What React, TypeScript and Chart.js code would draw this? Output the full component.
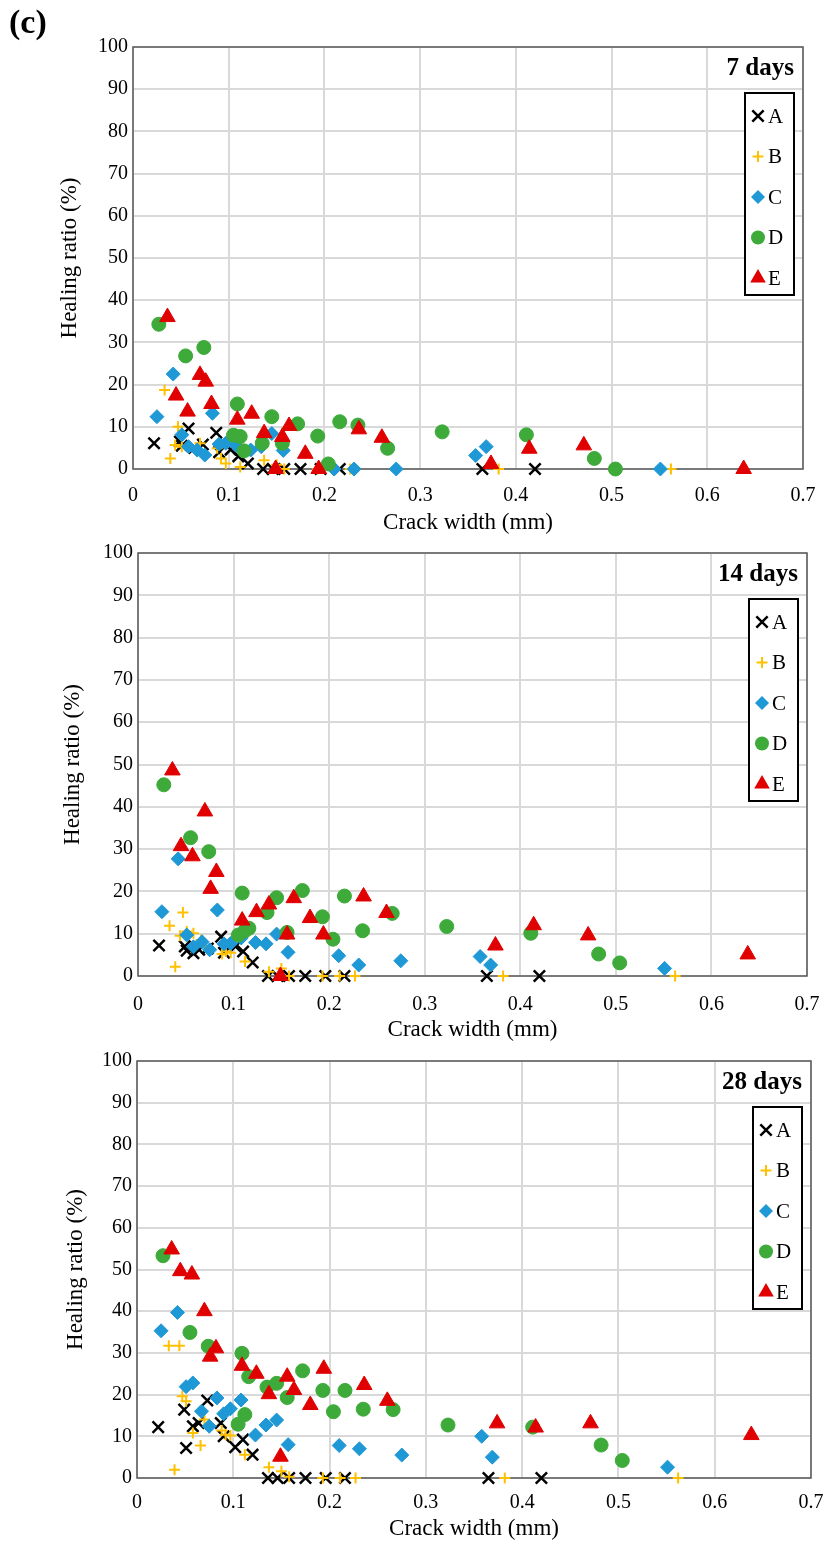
import React, { useEffect, useRef } from 'react';
import { Chart, registerables } from 'chart.js';

Chart.register(...registerables);

// ---------- tick labels / categories ----------
const xTicks = [0, 0.1, 0.2, 0.3, 0.4, 0.5, 0.6, 0.7];
const yTicks = [0, 10, 20, 30, 40, 50, 60, 70, 80, 90, 100];
const seriesNames = ['A', 'B', 'C', 'D', 'E'];
const ageLabels = ['7 days', '14 days', '28 days'];

// ---------- crack widths (mm) ----------
const xA = [0.022, 0.049, 0.051, 0.058, 0.064, 0.073, 0.087, 0.09, 0.102, 0.11, 0.12, 0.136, 0.146, 0.158, 0.175, 0.196, 0.216, 0.365, 0.42];
const xB = [0.033, 0.039, 0.044, 0.047, 0.051, 0.058, 0.066, 0.07, 0.088, 0.092, 0.097, 0.112, 0.137, 0.15, 0.158, 0.193, 0.211, 0.227, 0.382, 0.562];
const xC = [0.025, 0.042, 0.051, 0.058, 0.067, 0.075, 0.083, 0.09, 0.097, 0.108, 0.123, 0.134, 0.145, 0.157, 0.21, 0.231, 0.275, 0.358, 0.369, 0.551];
const xD = [0.027, 0.055, 0.074, 0.105, 0.109, 0.112, 0.116, 0.135, 0.145, 0.156, 0.172, 0.193, 0.204, 0.216, 0.235, 0.266, 0.323, 0.411, 0.482, 0.504];
const xE = [0.036, 0.045, 0.057, 0.07, 0.076, 0.082, 0.109, 0.124, 0.137, 0.149, 0.156, 0.163, 0.18, 0.194, 0.236, 0.26, 0.374, 0.414, 0.471, 0.638];

// ---------- healing ratio (%) : 7 days ----------
const yA7 = [6.1, 6.5, 5.5, 9.6, 5.0, 5.8, 8.6, 4.0, 4.6, 3.0, 1.3, 0, 0, 0, 0, 0, 0, 0, 0];
const yB7 = [18.7, 2.5, 5.7, 10.0, 5.3, 5.3, 4.5, 6.1, 4.9, 2.5, 1.3, 0.5, 2.1, 1.0, 0, 0, 0, 0, 0, 0];
const yC7 = [12.4, 22.5, 8.1, 5.3, 4.5, 3.3, 13.2, 5.9, 6.1, 5.5, 4.5, 5.3, 8.4, 4.4, 0, 0, 0, 3.2, 5.3, 0];
const yD7 = [34.3, 26.8, 28.8, 8.0, 15.4, 7.7, 4.3, 6.1, 12.4, 6.1, 10.7, 7.8, 1.2, 11.2, 10.4, 4.9, 8.8, 8.1, 2.5, 0];
const yE7 = [36.0, 17.4, 13.6, 22.3, 20.7, 15.4, 11.7, 13.1, 8.5, 0, 7.6, 10.2, 3.6, 0, 9.4, 7.4, 1.2, 4.8, 5.6, 0];

// ---------- healing ratio (%) : 14 days ----------
const yA14 = [7.2, 7.0, 6.0, 5.4, 6.2, 6.5, 9.3, 5.5, 7.0, 5.8, 3.2, 0, 0, 0, 0, 0, 0, 0, 0];
const yB14 = [11.9, 2.2, 9.5, 15.0, 10.5, 10.1, 8.5, 7.0, 5.2, 5.8, 5.5, 3.4, 1.0, 1.8, 0, 0, 0, 0, 0, 0];
const yC14 = [15.2, 27.7, 9.7, 6.9, 8.1, 6.2, 15.6, 7.6, 7.7, 9.0, 7.9, 7.6, 9.9, 5.6, 4.8, 2.6, 3.6, 4.6, 2.6, 1.8];
const yD14 = [45.2, 32.7, 29.4, 9.7, 19.6, 10.7, 11.3, 15.0, 18.5, 10.3, 20.2, 14.0, 8.7, 18.9, 10.7, 14.8, 11.7, 10.1, 5.2, 3.1];
const yE14 = [48.6, 30.7, 28.3, 38.9, 20.6, 24.6, 13.1, 15.1, 16.9, 0, 9.8, 18.4, 13.7, 9.8, 18.8, 14.9, 7.2, 12.0, 9.6, 5.1];

// ---------- healing ratio (%) : 28 days ----------
const yA28 = [12.2, 16.4, 7.2, 12.4, 13.2, 18.6, 13.2, 10.0, 7.4, 9.2, 5.6, 0, 0, 0, 0, 0, 0, 0, 0];
const yB28 = [31.7, 2.0, 31.7, 19.6, 18.4, 10.8, 7.8, 14.0, 11.4, 10.4, 10.2, 5.6, 2.6, 1.6, 0.3, 0, 0, 0, 0, 0];
const yC28 = [35.3, 39.7, 21.9, 22.8, 16.0, 12.4, 19.2, 15.4, 16.6, 18.7, 10.3, 12.7, 13.9, 8.0, 7.8, 7.0, 5.5, 10.0, 5.0, 2.6];
const yD28 = [53.3, 34.9, 31.6, 12.9, 29.9, 15.2, 24.3, 21.8, 22.7, 19.3, 25.7, 21.0, 15.9, 21.0, 16.5, 16.4, 12.7, 12.2, 7.9, 4.2];
const yE28 = [54.8, 49.6, 48.8, 40.0, 29.1, 31.1, 26.9, 25.0, 20.1, 5.1, 24.3, 21.1, 17.5, 26.2, 22.3, 18.5, 13.1, 12.1, 13.1, 10.3];

const xSets = [xA, xB, xC, xD, xE];
const panelValues = [
  [yA7, yB7, yC7, yD7, yE7],
  [yA14, yB14, yC14, yD14, yE14],
  [yA28, yB28, yC28, yD28, yE28],
];

// ---------- styles ----------
const FONT = '"Liberation Serif", "Times New Roman", serif';
const markerStyles = [
  { pointStyle: 'crossRot', radius: 8, color: '#000000', borderWidth: 2.5 },
  { pointStyle: 'cross', radius: 5.5, color: '#FFC000', borderWidth: 2 },
  { pointStyle: 'rectRot', radius: 7, color: '#1F98D6', borderWidth: 1 },
  { pointStyle: 'circle', radius: 7, color: '#3DAA3A', borderWidth: 1 },
  { pointStyle: 'triangle', radius: 9, color: '#E00000', borderWidth: 1 },
];

// canvas layout for each panel
const layouts = [
  { top: 0, height: 538, padTop: 47, padRight: 22, yWidth: 133, xHeight: 69, tickPad: 15, titleBottom: 1.2, yTitlePad: 56 },
  { top: 538, height: 507, padTop: 15, padRight: 18, yWidth: 138, xHeight: 69, tickPad: 17, titleBottom: 1.2, yTitlePad: 59 },
  { top: 1045, height: 505, padTop: 16, padRight: 14, yWidth: 137, xHeight: 72, tickPad: 13, titleBottom: 7, yTitlePad: 62 },
];

function drawMarker(ctx: CanvasRenderingContext2D, style: string, x: number, y: number, r: number, color: string, lw: number) {
  ctx.save();
  ctx.fillStyle = color;
  ctx.strokeStyle = color;
  ctx.lineWidth = lw;
  ctx.beginPath();
  if (style === 'circle') {
    ctx.arc(x, y, r, 0, Math.PI * 2);
    ctx.fill();
  } else if (style === 'triangle') {
    let rad = 0;
    ctx.moveTo(x + Math.sin(rad) * r, y - Math.cos(rad) * r);
    rad += (2 * Math.PI) / 3;
    ctx.lineTo(x + Math.sin(rad) * r, y - Math.cos(rad) * r);
    rad += (2 * Math.PI) / 3;
    ctx.lineTo(x + Math.sin(rad) * r, y - Math.cos(rad) * r);
    ctx.closePath();
    ctx.fill();
  } else if (style === 'rectRot') {
    ctx.moveTo(x - r, y);
    ctx.lineTo(x, y - r);
    ctx.lineTo(x + r, y);
    ctx.lineTo(x, y + r);
    ctx.closePath();
    ctx.fill();
  } else if (style === 'cross') {
    ctx.moveTo(x, y - r);
    ctx.lineTo(x, y + r);
    ctx.moveTo(x - r, y);
    ctx.lineTo(x + r, y);
    ctx.stroke();
  } else if (style === 'crossRot') {
    const o = Math.SQRT1_2 * r;
    ctx.moveTo(x - o, y - o);
    ctx.lineTo(x + o, y + o);
    ctx.moveTo(x - o, y + o);
    ctx.lineTo(x + o, y - o);
    ctx.stroke();
  }
  ctx.restore();
}

const panelPlugin = {
  id: 'panelDecor',
  beforeDatasetsDraw(chart: any) {
    const { ctx, chartArea: a } = chart;
    ctx.save();
    ctx.strokeStyle = '#595959';
    ctx.lineWidth = 1.5;
    ctx.strokeRect(a.left, a.top, a.right - a.left, a.bottom - a.top);
    ctx.restore();
  },
  afterDraw(chart: any, _args: any, opts: any) {
    const { ctx, chartArea: a } = chart;
    ctx.save();
    // age label
    ctx.font = `bold 25px ${FONT}`;
    ctx.fillStyle = '#000';
    ctx.textAlign = 'right';
    ctx.textBaseline = 'middle';
    ctx.fillText(opts.label, a.right - 9, a.top + 22);
    // legend box
    const bw = 49;
    const bh = 202;
    const bx = a.right - 9 - bw;
    const by = a.top + 46;
    ctx.fillStyle = '#fff';
    ctx.fillRect(bx, by, bw, bh);
    ctx.strokeStyle = '#000';
    ctx.lineWidth = 2;
    ctx.strokeRect(bx, by, bw, bh);
    chart.data.datasets.forEach((ds: any, i: number) => {
      const cy = by + 23 + i * 40.5;
      const m = markerStyles[i];
      drawMarker(ctx, m.pointStyle, bx + 13, cy, m.radius, m.color, m.borderWidth);
      ctx.font = `21px ${FONT}`;
      ctx.fillStyle = '#000';
      ctx.textAlign = 'left';
      ctx.textBaseline = 'middle';
      ctx.fillText(ds.label, bx + 23, cy + 1);
    });
    ctx.restore();
  },
};

function Panel({ index }: { index: number }) {
  const ref = useRef<HTMLCanvasElement | null>(null);
  const L = layouts[index];
  useEffect(() => {
    if (!ref.current) return;
    const values = panelValues[index];
    const datasets = seriesNames.map((name, i) => {
      const m = markerStyles[i];
      return {
        label: name,
        data: xSets[i].map((x, j) => ({ x, y: values[i][j] })),
        pointStyle: m.pointStyle,
        pointRadius: m.radius,
        pointHoverRadius: m.radius,
        pointBackgroundColor: m.color,
        pointBorderColor: m.color,
        pointBorderWidth: m.borderWidth,
        backgroundColor: m.color,
        borderColor: m.color,
        showLine: false,
        clip: false as any,
        order: 5 - i,
      };
    });
    const chart = new Chart(ref.current, {
      type: 'scatter',
      data: { datasets } as any,
      plugins: [panelPlugin as any],
      options: {
        responsive: false,
        animation: false,
        layout: { padding: { top: L.padTop, right: L.padRight, left: 0, bottom: 0 } },
        plugins: {
          legend: { display: false },
          tooltip: { enabled: false },
          panelDecor: { label: ageLabels[index] },
        } as any,
        scales: {
          x: {
            type: 'linear',
            min: 0,
            max: 0.7,
            afterBuildTicks: (s: any) => { s.ticks = xTicks.map((v) => ({ value: v })); },
            afterFit: (s: any) => {
              s.height = L.xHeight;
              s.paddingLeft = 0;
              s.paddingRight = 0;
            },
            ticks: {
              padding: L.tickPad,
              color: '#000',
              font: { family: FONT, size: 20 },
              callback: (v: any) => (Number(v) === 0 ? '0' : Number(v).toFixed(1)),
            },
            grid: { color: '#d9d9d9', lineWidth: 2, drawTicks: false },
            border: { display: false },
            title: {
              display: true,
              text: 'Crack width (mm)',
              color: '#000',
              font: { family: FONT, size: 23 },
              padding: { top: 0, bottom: L.titleBottom },
            },
          },
          y: {
            type: 'linear',
            min: 0,
            max: 100,
            afterBuildTicks: (s: any) => { s.ticks = yTicks.map((v) => ({ value: v })); },
            afterFit: (s: any) => {
              s.width = L.yWidth;
              s.paddingTop = 0;
              s.paddingBottom = 0;
            },
            ticks: {
              padding: 5,
              color: '#000',
              font: { family: FONT, size: 20 },
              callback: (v: any) => String(v),
            },
            grid: { color: '#d9d9d9', lineWidth: 2, drawTicks: false },
            border: { display: false },
            title: {
              display: true,
              text: 'Healing ratio (%)',
              color: '#000',
              font: { family: FONT, size: 23 },
              padding: { top: L.yTitlePad, bottom: 0 },
            },
          },
        },
      } as any,
    });
    return () => chart.destroy();
  }, [index]);
  return (
    <canvas
      ref={ref}
      width={825}
      height={L.height}
      style={{ position: 'absolute', left: 0, top: L.top, width: 825, height: L.height }}
    />
  );
}

export default function App() {
  return (
    <div style={{ position: 'absolute', left: 0, top: 0, width: 825, height: 1550, background: '#fff', overflow: 'hidden' }}>
      <Panel index={0} />
      <Panel index={1} />
      <Panel index={2} />
      <div
        style={{
          position: 'absolute',
          left: 9,
          top: 0,
          fontFamily: FONT,
          fontWeight: 'bold',
          fontSize: 34,
          lineHeight: '44px',
          color: '#000',
        }}
      >
        (c)
      </div>
    </div>
  );
}
